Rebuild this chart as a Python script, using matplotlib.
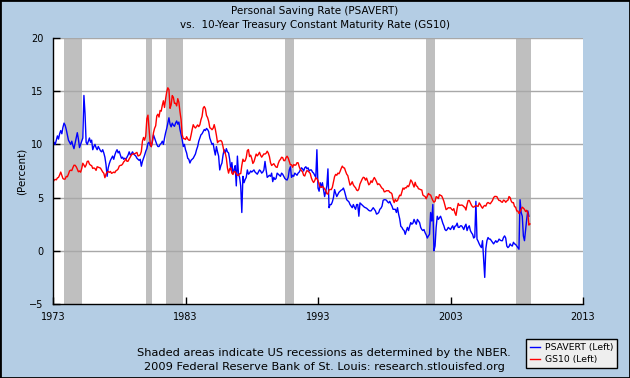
import numpy as np
import matplotlib
matplotlib.use("Agg")
import matplotlib.pyplot as plt
from matplotlib.patches import Rectangle

# monthly values, Jan 1973 onwards
psavert = [
    9.8, 10.2, 10.0, 10.4, 10.8, 10.5, 11.0, 11.3, 11.0, 11.6, 12.0, 11.8,   # 1973
    11.4, 10.9, 10.4, 10.2, 10.0, 10.3, 9.9, 9.6, 10.1, 10.6, 11.1, 10.5,    # 1974
    9.7, 10.0, 10.3, 10.6, 14.6, 12.9, 10.2, 10.0, 10.3, 10.6, 10.2, 10.4,   # 1975
    9.5, 9.8, 10.0, 9.7, 9.5, 9.8, 9.6, 9.4, 9.3, 9.5, 9.2, 8.8,             # 1976
    8.1, 7.0, 7.8, 8.2, 8.5, 8.7, 8.9, 8.6, 9.0, 9.3, 9.5, 9.2,              # 1977
    9.35, 9.0, 8.7, 8.8, 8.6, 8.7, 8.6, 8.8, 9.0, 9.3, 9.0, 9.1,             # 1978
    9.3, 9.1, 9.0, 8.9, 8.7, 8.6, 8.5, 8.6, 7.95, 8.4, 8.7, 9.0,             # 1979
    9.35, 9.6, 10.1, 10.2, 9.9, 9.8, 10.3, 10.9, 10.6, 10.3, 10.0, 9.8,      # 1980
    9.8, 10.0, 10.1, 10.3, 10.0, 10.6, 11.1, 11.5, 12.0, 12.5, 11.9, 11.65,  # 1981
    12.0, 11.8, 11.7, 12.0, 12.2, 11.9, 12.1, 11.4, 10.9, 10.45, 9.8, 10.0,  # 1982
    9.5, 9.2, 8.7, 8.6, 8.25, 8.5, 8.6, 8.7, 8.9, 9.1, 9.5, 9.8,             # 1983
    10.3, 10.6, 10.9, 11.0, 11.2, 11.4, 11.3, 11.5, 11.4, 11.2, 10.6, 10.3,  # 1984
    10.0, 10.1, 9.5, 9.0, 9.8, 9.3, 8.9, 7.6, 8.0, 8.25, 9.0, 9.5,           # 1985
    9.2, 9.6, 9.3, 9.2, 8.6, 7.6, 8.3, 7.3, 7.6, 8.0, 6.1, 8.9,              # 1986
    7.2, 6.9, 6.1, 3.6, 7.0, 6.4, 6.7, 6.9, 7.6, 7.2, 7.3, 7.5,              # 1987
    7.4, 7.5, 7.6, 7.4, 7.3, 7.2, 7.4, 7.6, 7.5, 7.3, 7.4, 7.6,              # 1988
    8.4, 7.6, 6.9, 7.0, 7.1, 7.0, 7.3, 6.5, 6.9, 6.7, 6.8, 7.3,              # 1989
    7.2, 7.1, 7.0, 7.3, 7.2, 7.0, 6.8, 6.7, 6.65, 6.9, 7.6, 7.9,             # 1990
    6.9, 7.1, 7.0, 7.3, 7.2, 7.1, 7.3, 7.4, 7.6, 7.8, 7.7, 7.5,              # 1991
    7.8, 7.9, 7.7, 7.8, 7.5, 7.6, 7.6, 7.4, 7.3, 7.1, 6.9, 9.5,              # 1992
    5.9, 5.6, 6.4, 6.0, 6.4, 5.75, 5.1, 5.6, 6.1, 7.7, 4.05, 4.35,           # 1993
    4.35, 4.6, 5.0, 5.75, 5.4, 5.1, 5.3, 5.5, 5.6, 5.7, 5.75, 5.9,           # 1994
    5.6, 5.2, 4.8, 4.7, 4.6, 4.35, 4.2, 4.05, 4.35, 4.1, 3.9, 4.35,          # 1995
    4.35, 3.25, 4.5, 4.4, 4.3, 4.2, 4.1, 4.05, 4.0, 3.9, 3.8, 3.75,          # 1996
    3.75, 3.9, 4.05, 3.9, 3.75, 3.45, 3.5, 3.6, 3.9, 4.0, 4.2, 4.75,         # 1997
    4.8, 4.8, 4.75, 4.6, 4.5, 4.65, 4.4, 4.2, 3.9, 3.9, 3.9, 3.6,            # 1998
    4.05, 3.45, 3.0, 2.3, 2.2, 2.0, 1.9, 1.55, 1.9, 2.2, 1.9, 2.3,           # 1999
    2.65, 2.5, 2.6, 2.95, 2.7, 2.5, 2.95, 2.8, 2.65, 2.2, 2.0, 1.9,          # 2000
    2.0, 1.7, 1.5, 1.2, 1.4, 1.55, 3.6, 2.8, 4.35, 0.0, 0.45, 2.2,           # 2001
    3.25, 2.95, 3.1, 3.25, 2.95, 2.6, 2.35, 2.0, 1.9, 2.0, 2.2, 2.1,         # 2002
    2.0, 2.2, 2.35, 2.0, 2.3, 2.35, 2.6, 2.2, 2.2, 2.35, 2.35, 2.2,          # 2003
    2.0, 2.3, 2.5, 1.9, 2.2, 2.35, 1.9, 1.7, 1.55, 1.2, 1.3, 4.65,           # 2004
    1.1, 0.9, 0.65, 0.45, 0.3, 0.95, -0.8, -2.5, 0.2, 0.95, 1.25, 1.1,       # 2005
    1.1, 0.95, 0.8, 0.65, 0.8, 0.95, 0.8, 0.9, 1.1, 1.0, 0.95, 0.95,         # 2006
    1.25, 1.4, 1.2, 0.45, 0.3, 0.4, 0.65, 0.5, 0.45, 0.8, 0.65, 0.6,         # 2007
    0.45, 0.3, 0.15, 4.8, 3.6, 3.25, 1.4, 0.95, 2.0, 2.95, 3.75, 3.25,       # 2008
]

gs10 = [
    6.46, 6.64, 6.71, 6.67, 6.85, 6.90, 7.13, 7.40, 7.09, 6.79, 6.73, 6.74,
    6.99, 6.96, 7.21, 7.51, 7.58, 7.54, 7.81, 8.04, 8.04, 7.90, 7.68, 7.43,
    7.50, 7.39, 7.73, 8.23, 8.06, 7.86, 8.06, 8.40, 8.43, 8.15, 8.05, 8.00,
    7.74, 7.79, 7.73, 7.56, 7.90, 7.86, 7.83, 7.77, 7.59, 7.41, 7.29, 6.87,
    7.21, 7.39, 7.46, 7.37, 7.46, 7.28, 7.33, 7.40, 7.34, 7.52, 7.58, 7.69,
    7.96, 8.03, 8.04, 8.15, 8.35, 8.46, 8.64, 8.41, 8.42, 8.64, 8.81, 9.01,
    9.10, 9.10, 9.12, 9.18, 9.25, 8.91, 8.95, 9.03, 9.33, 10.30, 10.65, 10.39,
    10.80, 12.41, 12.75, 11.47, 10.18, 9.78, 10.25, 11.10, 11.51, 11.75, 12.68, 12.84,
    12.57, 13.19, 13.12, 13.68, 14.10, 13.47, 14.28, 14.94, 15.32, 15.15, 13.39, 13.72,
    14.59, 14.43, 13.86, 13.87, 13.62, 14.30, 13.95, 13.06, 12.34, 10.91, 10.55, 10.54,
    10.46, 10.72, 10.51, 10.40, 10.38, 10.85, 11.38, 11.85, 11.65, 11.54, 11.69, 11.83,
    11.67, 11.84, 12.32, 12.63, 13.41, 13.56, 13.36, 12.72, 12.52, 12.16, 11.57, 11.50,
    11.38, 11.51, 11.86, 11.43, 10.85, 10.16, 10.31, 10.33, 10.37, 10.24, 9.78, 9.26,
    9.19, 8.70, 7.78, 7.30, 7.71, 7.80, 7.30, 7.17, 7.45, 7.43, 7.25, 7.11,
    7.08, 7.25, 7.25, 8.02, 8.61, 8.40, 8.45, 8.76, 9.42, 9.52, 8.86, 8.99,
    8.67, 8.21, 8.37, 8.72, 9.09, 8.92, 9.06, 9.26, 8.98, 8.80, 8.96, 9.11,
    9.09, 9.17, 9.36, 9.18, 8.86, 8.28, 8.02, 8.11, 8.19, 8.01, 7.87, 7.84,
    8.21, 8.47, 8.59, 8.79, 8.76, 8.48, 8.47, 8.75, 8.89, 8.72, 8.39, 8.08,
    8.09, 7.85, 8.11, 8.04, 8.07, 8.28, 8.27, 7.90, 7.65, 7.53, 7.42, 7.09,
    7.03, 7.34, 7.54, 7.48, 7.39, 7.26, 6.84, 6.59, 6.42, 6.59, 6.87, 6.77,
    6.60, 6.26, 5.98, 5.97, 6.04, 5.96, 5.81, 5.68, 5.36, 5.33, 5.72, 5.77,
    5.75, 5.97, 6.48, 6.97, 7.18, 7.10, 7.30, 7.24, 7.46, 7.74, 7.96, 7.81,
    7.78, 7.47, 7.20, 7.06, 6.63, 6.17, 6.28, 6.49, 6.20, 6.04, 5.93, 5.71,
    5.65, 5.81, 6.27, 6.51, 6.74, 6.91, 6.87, 6.64, 6.83, 6.53, 6.20, 6.30,
    6.58, 6.42, 6.69, 6.89, 6.71, 6.49, 6.22, 6.30, 6.21, 6.03, 5.88, 5.81,
    5.54, 5.57, 5.65, 5.64, 5.65, 5.50, 5.46, 5.34, 4.81, 4.53, 4.83, 4.65,
    4.72, 5.00, 5.23, 5.18, 5.54, 5.90, 5.79, 5.94, 5.92, 6.11, 6.03, 6.28,
    6.66, 6.52, 6.26, 5.99, 6.44, 6.10, 6.05, 5.83, 5.80, 5.74, 5.72, 5.24,
    5.16, 5.10, 4.89, 5.14, 5.39, 5.28, 5.24, 4.97, 4.73, 4.57, 4.65, 5.09,
    5.04, 4.91, 5.28, 5.21, 5.16, 4.93, 4.65, 4.26, 3.87, 3.94, 4.05, 4.03,
    4.05, 3.90, 3.81, 3.96, 3.57, 3.33, 3.98, 4.45, 4.27, 4.29, 4.30, 4.27,
    4.15, 4.08, 3.83, 4.35, 4.72, 4.73, 4.50, 4.28, 4.13, 4.10, 4.19, 4.23,
    4.22, 4.17, 4.50, 4.34, 4.14, 4.00, 4.18, 4.26, 4.20, 4.46, 4.54, 4.47,
    4.42, 4.57, 4.72, 4.99, 5.11, 5.11, 5.09, 4.88, 4.72, 4.73, 4.60, 4.56,
    4.76, 4.72, 4.56, 4.69, 4.75, 5.10, 5.00, 4.67, 4.52, 4.53, 4.15, 4.10,
    3.74, 3.74, 3.51, 3.68, 3.88, 4.10, 4.01, 3.89, 3.69, 3.81, 3.53, 2.42,
    2.52,
]

# NBER recessions (start, end) in decimal years
recessions = [(1973.83, 1975.17), (1980.0, 1980.5), (1981.5, 1982.83),
              (1990.5, 1991.17), (2001.17, 2001.83), (2007.92, 2009.1)]

xticks = [1973, 1983, 1993, 2003, 2013]
yticks = [-5, 0, 5, 10, 15, 20]

bg = '#b4cde4'
x_sav = 1973 + np.arange(len(psavert)) / 12
x_gs = 1973 + np.arange(len(gs10)) / 12

fig = plt.figure(figsize=(6.3, 3.78), dpi=100, facecolor=bg)
ax = fig.add_axes([53 / 630, 1 - 304 / 378, 530 / 630, 266 / 378])
ax.set_facecolor('white')

for s, e in recessions:
    ax.axvspan(s, e, color='#bfbfbf', lw=0, zorder=1)

for y in yticks[1:]:
    ax.axhline(y, color='#a8a8a8', lw=1, zorder=1.5)

ax.plot(x_sav, psavert, color='#0000ff', lw=1, label='PSAVERT (Left)', zorder=3)
ax.plot(x_gs, gs10, color='#ff0000', lw=1, label='GS10 (Left)', zorder=3)

ax.set_xlim(1973, 2013)
ax.set_ylim(-5, 20)
ax.set_xticks(xticks)
ax.set_yticks(yticks)
ax.tick_params(direction='in', length=5, width=1, color='black', labelsize=7, pad=6)
ax.tick_params(axis='y', pad=7)
for side in ['top', 'right']:
    ax.spines[side].set_visible(False)
for side in ['left', 'bottom']:
    ax.spines[side].set_color('black')
    ax.spines[side].set_linewidth(1)
ax.spines['left'].set_zorder(4)
ax.spines['bottom'].set_zorder(4)

ax.set_ylabel('(Percent)', fontsize=7.5, labelpad=2)

fig.text(0.5, 1 - 11 / 378, 'Personal Saving Rate (PSAVERT)', ha='center', va='center', fontsize=7.5)
fig.text(0.5, 1 - 25 / 378, 'vs.  10-Year Treasury Constant Maturity Rate (GS10)',
         ha='center', va='center', fontsize=7.5)

fig.text(324 / 630, 1 - 353 / 378, 'Shaded areas indicate US recessions as determined by the NBER.',
         ha='center', va='center', fontsize=8.2)
fig.text(324 / 630, 1 - 367 / 378, '2009 Federal Reserve Bank of St. Louis: research.stlouisfed.org',
         ha='center', va='center', fontsize=8.2)

leg = fig.legend(loc='lower right', bbox_to_anchor=(622 / 630, 1 - 373 / 378),
                 fontsize=6.7, frameon=True, fancybox=False, handlelength=1.1,
                 handletextpad=0.5, borderpad=0.45, labelspacing=0.3)
leg.get_frame().set_facecolor('#eeeeee')
leg.get_frame().set_edgecolor('black')
leg.get_frame().set_linewidth(1)
leg.get_frame().set_alpha(1)

fig.patches.append(Rectangle((0, 0), 1, 1, transform=fig.transFigure,
                             fill=False, edgecolor='black', lw=2))

fig.savefig('out.png', dpi=100, facecolor=bg)
